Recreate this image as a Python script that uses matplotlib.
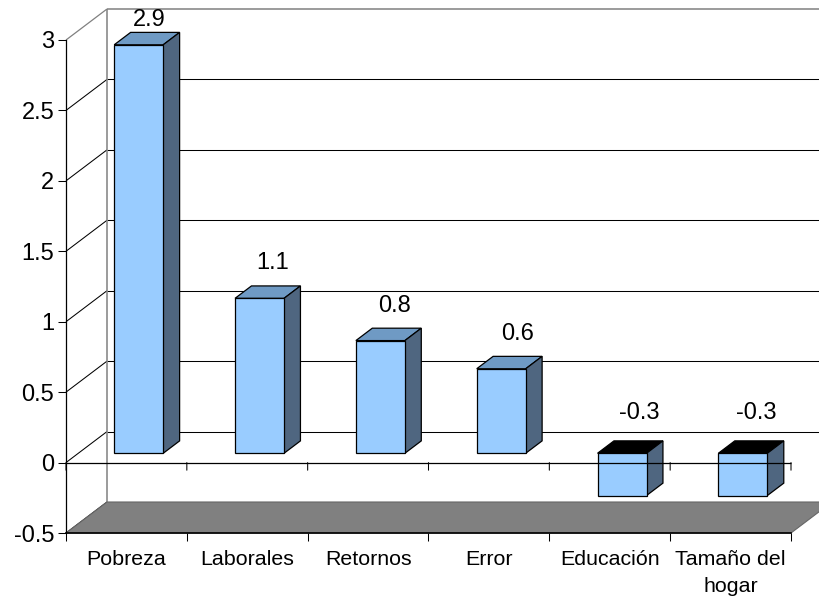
import matplotlib
matplotlib.use("Agg")
import matplotlib.pyplot as plt
from matplotlib.patches import Polygon

plt.rcParams['font.family'] = ['Liberation Sans', 'DejaVu Sans']

categories = ["Pobreza", "Laborales", "Retornos", "Error", "Educación", "Tamaño del\nhogar"]
values = [2.9, 1.1, 0.8, 0.6, -0.3, -0.3]
value_labels = ["2.9", "1.1", "0.8", "0.6", "-0.3", "-0.3"]
y_ticks = [-0.5, 0, 0.5, 1, 1.5, 2, 2.5, 3]
y_tick_labels = ["-0.5", "0", "0.5", "1", "1.5", "2", "2.5", "3"]
# label offsets from the top-back centre of each bar, in pixels
label_dx = [-6, -3, -2, 0, 1, -3]
label_dy = [12, 23, 22, 22, 28, 28]

W, H = 820, 598
L, R, T, B = 66, 791, 40, 533
DX_PX, DY_PX = 41, 31
YMIN, YMAX = -0.5, 3.0
N = len(categories)

fig = plt.figure(figsize=(W / 100, H / 100), dpi=100)
ax = fig.add_axes([L / W, 1 - B / H, (R - L) / W, (B - T) / H])
ax.set_xlim(0, N)
ax.set_ylim(YMIN, YMAX)
ax.patch.set_visible(False)

ux = N / (R - L)
uy = (YMAX - YMIN) / (B - T)


def P(x, y, d=0.0):
    """Project (category x, value y, depth d in 0..1) into the front plane."""
    return (x + d * DX_PX * ux, y + d * DY_PX * uy)


def line(p, q, color, lw, z):
    ax.plot([p[0], q[0]], [p[1], q[1]], color=color, lw=lw, zorder=z,
            clip_on=False, solid_capstyle='butt')


# walls
for t in y_ticks:
    top = t == YMAX
    if t != YMIN:
        line(P(0, t, 1), P(N, t, 1), '#808080' if top else '#000000', 1.1 if top else 0.75, 1)
    line(P(0, t, 0), P(0, t, 1), '#808080' if top else '#000000', 0.9 if top else 0.75, 1)
line(P(0, YMIN, 1), P(0, YMAX, 1), '#808080', 1.1, 1)

# floor
ax.add_patch(Polygon([P(0, YMIN, 0), P(N, YMIN, 0), P(N, YMIN, 1), P(0, YMIN, 1)],
                     closed=True, facecolor='#808080', edgecolor='#666666', lw=0.8,
                     zorder=2, clip_on=False))

# bars
FRONT_D, BACK_D = 0.3, 0.7
BAR_W = 49 * ux
for i, v in enumerate(values):
    x0 = i + 0.5 - BAR_W / 2
    x1 = x0 + BAR_W
    lo, hi = min(v, 0), max(v, 0)
    top_color = '#000000' if v < 0 else '#6F9AC4'
    ax.add_patch(Polygon([P(x0, hi, FRONT_D), P(x1, hi, FRONT_D), P(x1, hi, BACK_D), P(x0, hi, BACK_D)],
                         closed=True, facecolor=top_color, edgecolor='black', lw=0.9, zorder=3, clip_on=False))
    ax.add_patch(Polygon([P(x1, lo, FRONT_D), P(x1, hi, FRONT_D), P(x1, hi, BACK_D), P(x1, lo, BACK_D)],
                         closed=True, facecolor='#4F6680', edgecolor='black', lw=0.9, zorder=3, clip_on=False))
    ax.add_patch(Polygon([P(x0, lo, FRONT_D), P(x1, lo, FRONT_D), P(x1, hi, FRONT_D), P(x0, hi, FRONT_D)],
                         closed=True, facecolor='#99CCFF', edgecolor='black', lw=0.9, zorder=4, clip_on=False))
    ax.annotate(value_labels[i], xy=P(i + 0.5, hi, BACK_D), xytext=(label_dx[i] * 0.72, label_dy[i] * 0.72),
                textcoords='offset points', ha='center', va='center', fontsize=17,
                color='black', zorder=6, annotation_clip=False)

# zero line, drawn over the bars
line(P(0, 0), P(N, 0), '#000000', 0.9, 5)

for s in ('top', 'right'):
    ax.spines[s].set_visible(False)
ax.spines['left'].set_linewidth(0.9)
ax.spines['bottom'].set_linewidth(1.2)
ax.spines['left'].set_zorder(5)
ax.spines['bottom'].set_zorder(5)

ax.set_yticks(y_ticks, y_tick_labels, fontsize=17)
ax.tick_params(axis='y', length=5.5, width=0.75, pad=3)
ax.set_xticks(range(N + 1), [''] * (N + 1))
ax.tick_params(axis='x', length=5.5, width=0.75, pad=0)
for i in range(N + 1):
    ax.annotate('', xy=(i, 0), xytext=(0, -5.5), textcoords='offset points',
                arrowprops=dict(arrowstyle='-', lw=0.75, color='black', shrinkA=0, shrinkB=0),
                zorder=5, annotation_clip=False)
for i, c in enumerate(categories):
    ax.annotate(c, xy=(i + 0.5, YMIN), xytext=(0, -12.5), textcoords='offset points',
                ha='center', va='top', fontsize=15.4, linespacing=1.52, annotation_clip=False)

ax.set_xlim(0, N)
ax.set_ylim(YMIN, YMAX)
fig.savefig('out.png', dpi=100, facecolor='white')
